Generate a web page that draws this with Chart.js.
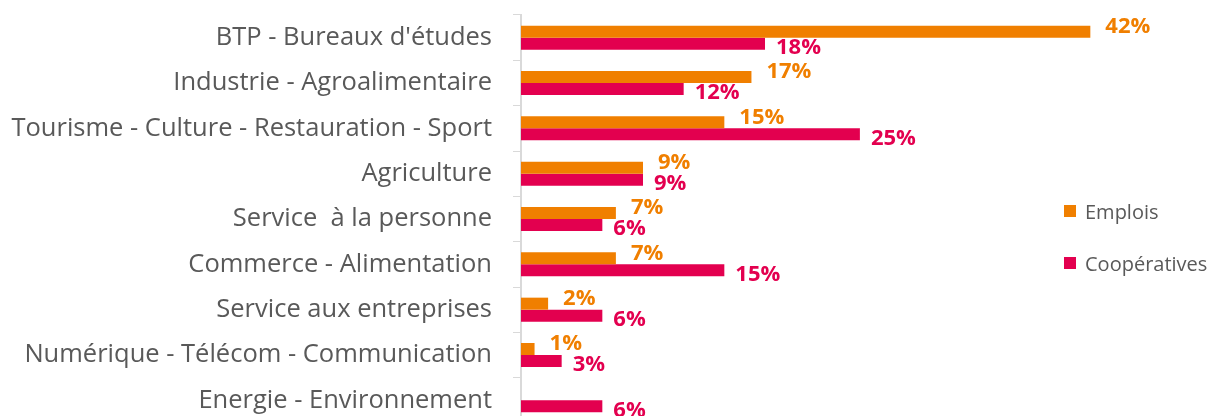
<!DOCTYPE html>
<html>
<head>
<meta charset="utf-8">
<script src="https://cdn.jsdelivr.net/npm/chart.js@4/dist/chart.umd.min.js"></script>
<style>
  html, body { margin:0; padding:0; width:1213px; height:416px; overflow:hidden; background:#fff; }
  #c { position:absolute; left:0; top:0; }
  #legend { position:absolute; left:1064px; top:198px; font-family:"Open Sans", sans-serif; font-size:20px; color:#595959; }
  .li { display:flex; align-items:center; height:26px; margin-bottom:26px; }
  .sw { width:12px; height:12px; margin-right:9px; }
</style>
</head>
<body>
<canvas id="c" width="1213" height="428"></canvas>
<div id="legend"></div>
<script>
const categories = [
  "BTP - Bureaux d'études",
  "Industrie - Agroalimentaire",
  "Tourisme - Culture - Restauration - Sport",
  "Agriculture",
  "Service  à la personne",
  "Commerce - Alimentation",
  "Service aux entreprises",
  "Numérique - Télécom - Communication",
  "Energie - Environnement"
];
const emplois = [42, 17, 15, 9, 7, 7, 2, 1, null];
const cooperatives = [18, 12, 25, 9, 6, 15, 6, 3, 6];
const seriesNames = ["Emplois", "Coopératives"];
const seriesColors = ["#F07F00", "#E3004F"];

const valueLabels = {
  id: 'valueLabels',
  afterDatasetsDraw(chart) {
    const ctx = chart.ctx;
    ctx.save();
    ctx.font = "bold 22px 'Open Sans', sans-serif";
    ctx.textBaseline = 'middle';
    ctx.textAlign = 'left';
    chart.data.datasets.forEach((ds, di) => {
      const meta = chart.getDatasetMeta(di);
      const gap = di === 0 ? 15 : 11;
      const dy = di === 0 ? -5 : 4;
      ctx.fillStyle = ds.backgroundColor;
      meta.data.forEach((el, i) => {
        const v = ds.data[i];
        if (v === null || v === undefined) return;
        ctx.fillText(v + '%', el.x + gap, el.y + dy);
      });
    });
    ctx.restore();
  }
};

const chart = new Chart(document.getElementById('c'), {
  type: 'bar',
  data: {
    labels: categories,
    datasets: [
      { label: seriesNames[0], data: emplois, backgroundColor: seriesColors[0] },
      { label: seriesNames[1], data: cooperatives, backgroundColor: seriesColors[1] }
    ]
  },
  options: {
    indexAxis: 'y',
    responsive: false,
    maintainAspectRatio: false,
    devicePixelRatio: 1,
    animation: false,
    layout: { padding: { top: 15, bottom: 5, left: 0, right: 82 } },
    datasets: { bar: { categoryPercentage: 0.53, barPercentage: 1.0 } },
    plugins: { legend: { display: false }, tooltip: { enabled: false } },
    scales: {
      x: { display: false, min: 0, max: 45 },
      y: {
        afterFit(s) { s.width = 521; s.paddingTop = 0; s.paddingBottom = 0; },
        grid: { offset: true, drawOnChartArea: false, drawTicks: true, tickLength: 8, color: '#d9d9d9', lineWidth: 1 },
        border: { display: true, color: '#d9d9d9', width: 2 },
        ticks: { color: '#595959', font: { family: "'Open Sans', sans-serif", size: 25.5 }, padding: 21, autoSkip: false }
      }
    }
  },
  plugins: [valueLabels]
});

const lg = document.getElementById('legend');
seriesNames.forEach((n, i) => {
  const d = document.createElement('div');
  d.className = 'li';
  d.innerHTML = '<span class="sw" style="background:' + seriesColors[i] + '"></span><span></span>';
  d.lastChild.textContent = n;
  lg.appendChild(d);
});
</script>
</body>
</html>
